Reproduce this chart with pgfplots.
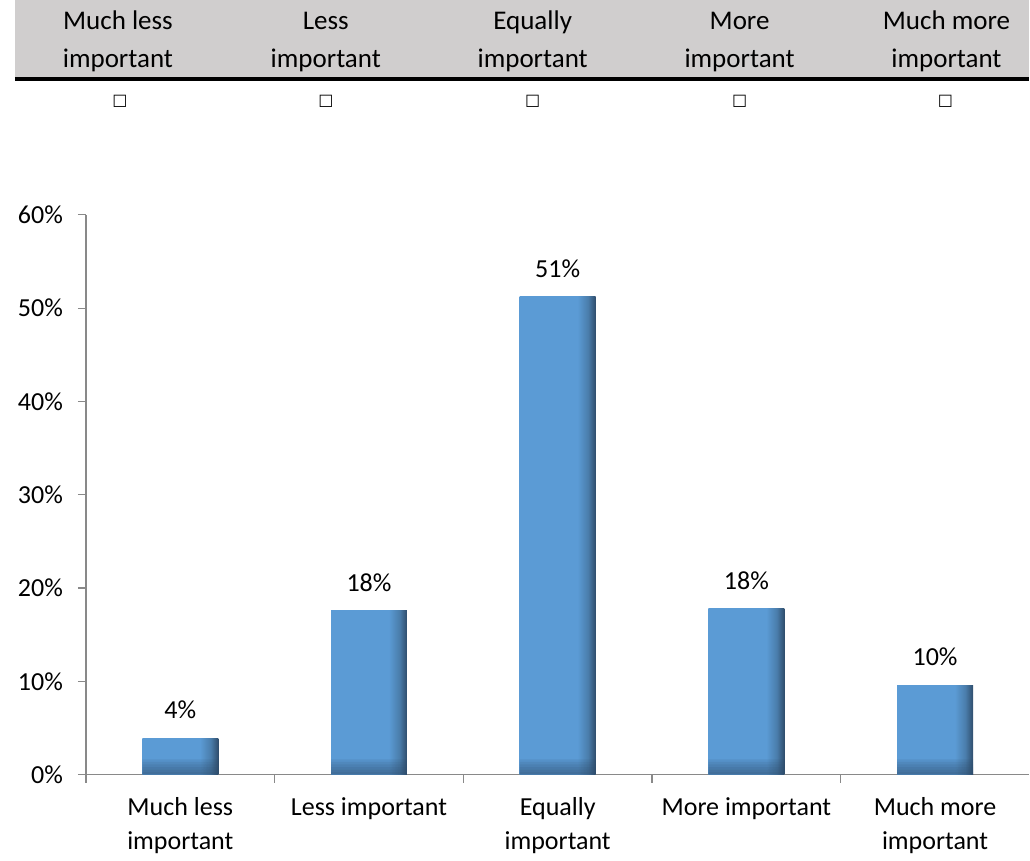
\documentclass[border=0pt]{standalone}
\usepackage{pgfplots}
\pgfplotsset{compat=1.18}
\usepackage{pgfplotstable}
\usepackage{fontspec}
\setmainfont{Carlito}
\newfontfamily\symfont{DejaVu Sans}

\definecolor{barblue}{HTML}{5B9BD5}
\definecolor{barmid}{HTML}{4A7DAB}
\definecolor{bardark}{HTML}{2F4D6C}
\definecolor{headgray}{HTML}{D0CECE}
\definecolor{axisgray}{HTML}{898989}

% bar face: flat blue with a darker right edge
\pgfdeclarehorizontalshading{barshade}{100bp}{color(0bp)=(barblue); color(63bp)=(barblue); color(70bp)=(barmid); color(75bp)=(bardark); color(100bp)=(bardark)}

\pgfplotstableread{
idx value
0 3.9
1 17.6
2 51.2
3 17.8
4 9.6
}\importance

\begin{document}
\begin{tikzpicture}
\begin{axis}[
  scale only axis, width=472pt, height=280pt,
  xmin=-0.5, xmax=4.5, ymin=0, ymax=60,
  axis x line*=bottom, axis y line*=left,
  axis line style={axisgray, line width=0.6pt, -},
  tick align=outside,
  major tick length=4pt, minor tick length=4pt,
  tick style={axisgray, line width=0.6pt},
  ytick={0,10,...,60},
  yticklabel={\pgfmathprintnumber{\tick}\%},
  yticklabel style={xshift=-4pt},
  xtick={0,1,2,3,4},
  xticklabels={{Much less\\important},{Less important},{Equally\\important},{More important},{Much more\\important}},
  xticklabel style={align=center, yshift=-4pt},
  major x tick style={draw=none},
  minor xtick={-0.5,0.5,1.5,2.5,3.5},
  tick label style={font=\fontsize{13}{17}\selectfont, black},
  /pgf/number format/assume math mode=true,
  ybar, bar width=38pt, bar shift=0pt,
  every node near coord/.append style={font=\fontsize{13}{15}\selectfont, black, yshift=6pt},
  clip=false,
]
\coordinate (O) at (rel axis cs:0,0);
% one plot per bar, so that each bar carries its own edge shading
\pgfplotsinvokeforeach{0,...,4}{
  \addplot[draw=none, shading=barshade, restrict x to domain=#1:#1,
    nodes near coords={\pgfmathprintnumber[fixed,precision=0]{\pgfplotspointmeta}\%}]
    table[x=idx, y=value]{\importance};
}
% darker band along the foot of each bar: stacked translucent layers
\pgfplotsinvokeforeach{1,...,6}{
  \addplot[draw=none, fill=bardark, fill opacity=0.12, forget plot]
    table[x=idx, y expr={min(\thisrow{value},#1*0.27)}]{\importance};
}
\end{axis}

% header row of the rating scale, laid out in pixel-like units from the top-left
\begin{scope}[shift={(O)}, x=0.5pt, y=-0.5pt, shift={(-86,-775)}]
\useasboundingbox (0,0) rectangle (1030,856);
\fill[headgray] (15,0) rectangle (1030,77);
\draw[line width=2pt] (15,79) -- (1030,79);
\foreach \x/\a/\b in {118/Much less/important, 326/Less/important, 533/Equally/important, 740/More/important, 947/Much more/important}{
  \node[anchor=base, font=\fontsize{13.5}{19}\selectfont, inner sep=0pt] at (\x,30) {\a};
  \node[anchor=base, font=\fontsize{13.5}{19}\selectfont, inner sep=0pt] at (\x,68) {\b};
}
\foreach \x in {120,326,533,740,946}
  \node[font=\symfont\fontsize{8}{8}\selectfont, inner sep=0pt] at (\x,101) {□};
\end{scope}
\end{tikzpicture}
\end{document}
